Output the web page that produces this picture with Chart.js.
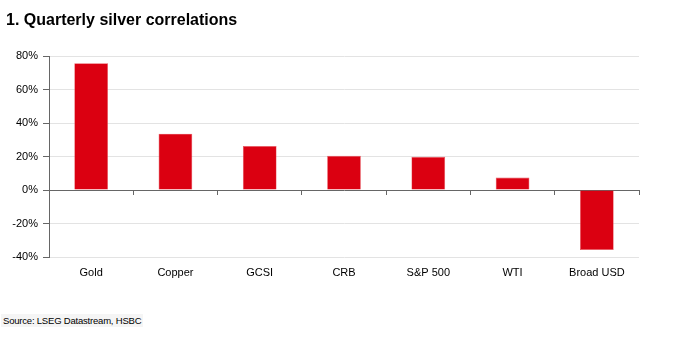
<!DOCTYPE html>
<html>
<head>
<meta charset="utf-8">
<script src="https://cdn.jsdelivr.net/npm/chart.js@4"></script>
<style>
  html, body { margin: 0; padding: 0; background: #fff; }
  body { width: 673px; height: 340px; position: relative; overflow: hidden; font-family: "Liberation Sans", Arial, sans-serif; }
  #title { position: absolute; left: 6px; top: 11px; font-size: 16px; font-weight: bold; color: #000; }
  #source { position: absolute; left: 1px; top: 314px; font-size: 9.5px; color: #000; background: #f5f5f5; padding: 1px 2px; letter-spacing: -0.2px; }
  #wrap { position: absolute; left: 0; top: 0; width: 673px; height: 340px; }
</style>
</head>
<body>
<div id="wrap"><canvas id="chart" width="673" height="340"></canvas></div>
<div id="title">1. Quarterly silver correlations</div>
<div id="source">Source: LSEG Datastream, HSBC</div>
<script>
// categories and correlation values (%)
const categories = ['Gold', 'Copper', 'GCSI', 'CRB', 'S&P 500', 'WTI', 'Broad USD'];
const correlations = [75.6, 33.6, 26.2, 20.4, 19.8, 7.4, -35.8];
const yTicks = [-40, -20, 0, 20, 40, 60, 80];

const tickFont = { family: 'Liberation Sans', size: 11 };

const ctx = document.getElementById('chart').getContext('2d');
new Chart(ctx, {
    type: 'bar',
    data: {
        labels: categories,
        datasets: [{
            data: correlations,
            backgroundColor: '#db0011',
            borderColor: '#e8555f',
            borderWidth: 0.6,
            barPercentage: 0.4,
            categoryPercentage: 1
        }]
    },
    options: {
        responsive: false,
        animation: false,
        devicePixelRatio: 1,
        layout: { padding: { top: 56, right: 34, left: 0, bottom: 0 } },
        plugins: { legend: { display: false }, tooltip: { enabled: false } },
        scales: {
            x: {
                position: 'bottom',
                grid: { display: false },
                border: { display: false },
                ticks: { color: '#000', padding: 1, font: tickFont },
                afterFit: s => { s.height = 83; }
            },
            zero: {
                type: 'category',
                axis: 'x',
                labels: categories,
                position: { y: 0 },
                grid: { offset: true, drawOnChartArea: false, tickLength: 4, color: '#666' },
                border: { color: '#666', width: 1 },
                ticks: { display: false }
            },
            y: {
                min: yTicks[0],
                max: yTicks[yTicks.length - 1],
                afterBuildTicks: s => { s.ticks = yTicks.map(v => ({ value: v })); },
                ticks: {
                    color: '#000',
                    padding: 5,
                    font: tickFont,
                    callback: v => v + '%'
                },
                grid: {
                    color: c => c.tick && c.tick.value === 0 ? 'rgba(0,0,0,0)' : '#e3e3e3',
                    tickColor: '#666',
                    tickLength: 6
                },
                border: { color: '#666' },
                afterFit: s => { s.width = 49; }
            }
        }
    }
});
</script>
</body>
</html>
